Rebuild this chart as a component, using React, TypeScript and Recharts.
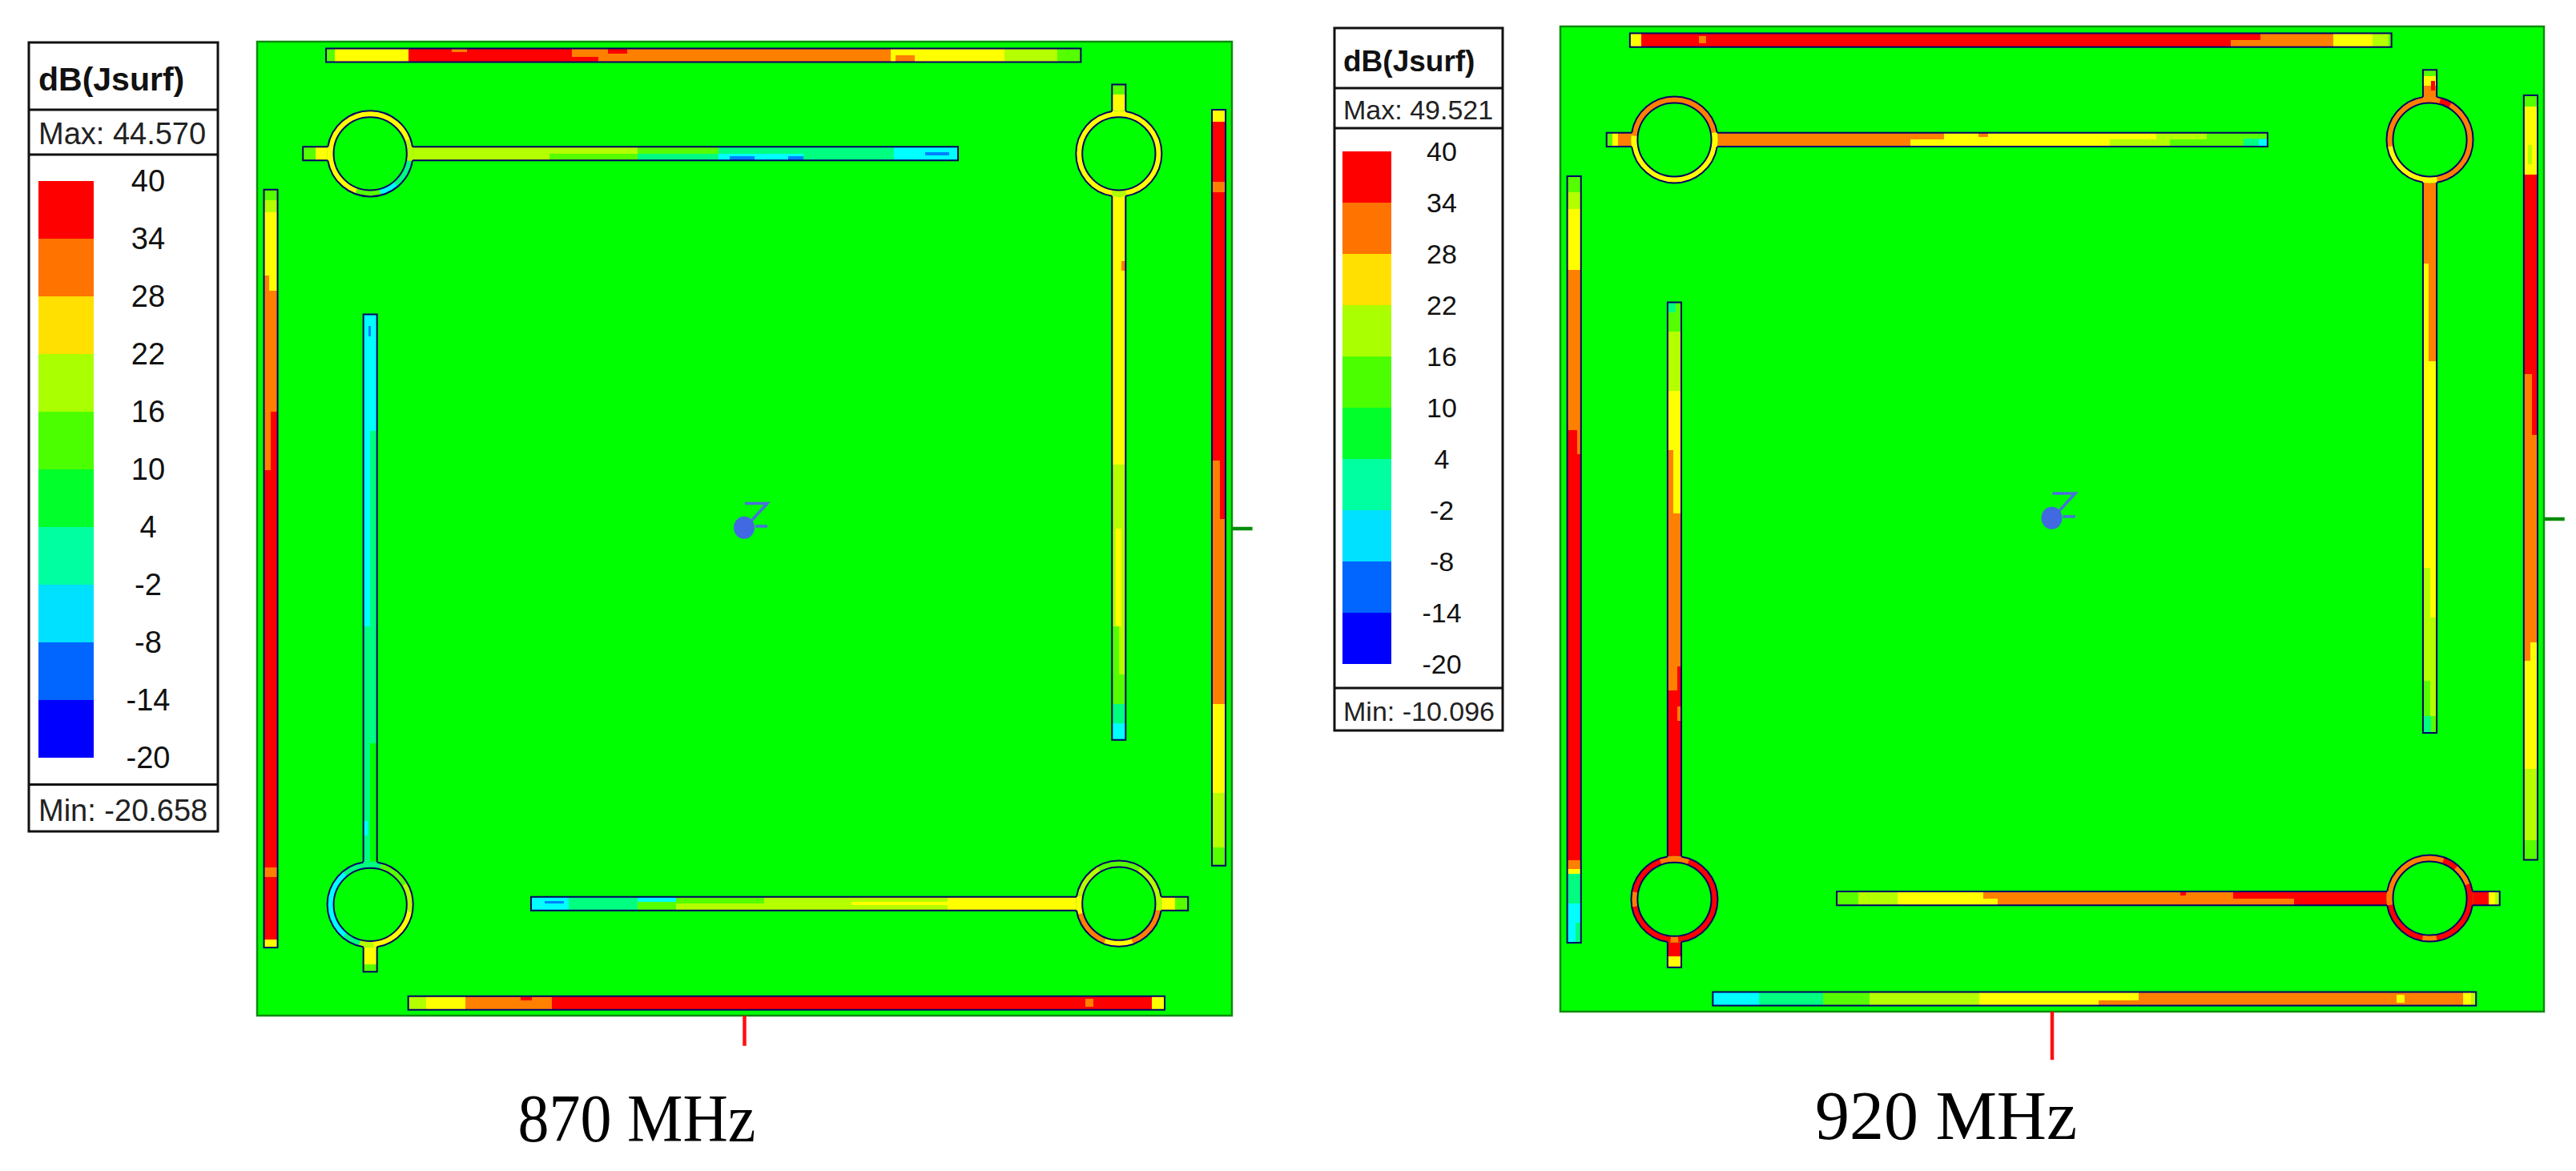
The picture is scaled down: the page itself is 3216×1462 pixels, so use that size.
import { BarChart, Bar, ComposedChart, Line, ReferenceArea, Scatter, XAxis, YAxis } from 'recharts'

// colour bands, low to high
const legendTicks = [-20, -14, -8, -2, 4, 10, 16, 22, 28, 34, 40]
const legendColors = ['#0000ff', '#0066ff', '#00e0ff', '#00ffa0', '#00ff2b', '#4cff00', '#aaff00', '#ffe000', '#ff7300', '#ff0000']
const fieldColors = ['#0000ff', '#0080ff', '#00ffff', '#00ff80', '#00ff00', '#55ff00', '#b4ff00', '#ffff00', '#ff8000', '#ff0000']
const legendRow = [{ name: 'dB', base: -20, b0: 6, b1: 6, b2: 6, b3: 6, b4: 6, b5: 6, b6: 6, b7: 6, b8: 6, b9: 6 }]

// trace layout on the board, 0-100 both ways
const traces = [
  { id: 'top', dir: 'h', c: 98.6, half: 0.7, a: 7.07, b: 84.5 },
  { id: 'left', dir: 'v', c: 1.4, half: 0.7, a: 7.0, b: 84.8 },
  { id: 'right', dir: 'v', c: 98.65, half: 0.7, a: 15.4, b: 93.0 },
  { id: 'bottom', dir: 'h', c: 1.3, half: 0.7, a: 15.5, b: 93.1 },
  { id: 'tl', dir: 'h', c: 88.5, half: 0.7, a: 4.7, b: 71.9 },
  { id: 'tr', dir: 'v', c: 88.4, half: 0.7, a: 28.3, b: 95.6 },
  { id: 'bl', dir: 'v', c: 11.6, half: 0.7, a: 4.5, b: 72.0 },
  { id: 'br', dir: 'h', c: 11.5, half: 0.7, a: 28.1, b: 95.5 },
]
const ringCenters = [
  { id: 'tl', x: 11.6, y: 88.5, gaps: [0, 180] },
  { id: 'tr', x: 88.4, y: 88.5, gaps: [90, 270] },
  { id: 'bl', x: 11.6, y: 11.4, gaps: [90, 270] },
  { id: 'br', x: 88.4, y: 11.5, gaps: [0, 180] },
]
const ringOuter = 4.4
const ringInner = 3.75

// field patches: from, to, dB, then optional cross-width fractions
const top870 = [[7.07, 8, 13], [8, 15.5, 25], [15.5, 32.3, 37], [32.3, 65, 31], [65, 76.7, 25], [76.7, 82.1, 19], [82.1, 84.5, 13], [20, 21.5, 31, 0.75, 1], [32.3, 35, 37, 0, 0.4], [36, 38, 37, 0.6, 1], [65.5, 67.5, 31, 0, 0.5]]
const left870 = [[7, 7.8, 25], [7.8, 56, 37], [56, 74.4, 31], [74.4, 82.5, 25], [82.5, 83.7, 19], [83.7, 84.8, 13], [56, 62, 37, 0.5, 1], [14.2, 15.2, 31], [74.4, 76, 31, 0, 0.4]]
const right870 = [[15.4, 17.3, 13], [17.3, 22.9, 19], [22.9, 32, 25], [32, 51, 31], [51, 91.8, 37], [91.8, 93, 25], [51, 57, 31, 0, 0.6], [84.5, 85.6, 31]]
const bottom870 = [[15.5, 17.3, 19], [17.3, 21.4, 25], [21.4, 30.2, 31], [30.2, 91.8, 37], [91.8, 93.1, 25], [27, 28.2, 37, 0.7, 1], [85, 85.8, 31, 0.2, 0.8]]
const tl870 = [[4.7, 6, 13], [6, 16, 25], [16, 30, 19], [30, 39, 13], [30, 39, 19, 0.5, 1], [39, 47.3, 13], [39, 47.3, 1, 0, 0.5], [47.3, 56, 1], [47.3, 56, -5, 0, 0.5], [48.5, 51, -11, 0, 0.3], [54.5, 57, -11, 0, 0.3], [56, 65.3, 1], [65.3, 71.9, -5], [68.5, 71, -11, 0.4, 0.6]]
const tr870 = [[28.3, 30, -5], [30, 32, 1], [32, 40, 13], [35, 40, 19, 0.5, 1], [40, 56.6, 19], [40, 50, 25, 0.3, 0.7], [56.6, 94.6, 25], [94.6, 95.6, 13], [76.5, 77.5, 31, 0.7, 1]]
const bl870 = [[4.5, 5.3, 13], [5.3, 7.4, 25], [7.4, 15, 7], [15, 28, 1], [15, 28, 7, 0.5, 1], [28, 40, 1], [40, 72, -5], [40, 60, 1, 0.5, 1], [69.7, 70.8, -11, 0.4, 0.55], [18.5, 20, -5, 0, 0.3]]
const br870 = [[28.1, 32, -5], [32, 39, 1], [39, 43, 13], [43, 52, 13], [52, 70.8, 19], [70.8, 94.2, 25], [94.2, 95.5, 13], [29.5, 31.5, -11, 0.5, 0.7], [39, 43, -5, 0.6, 1], [43, 52, 19, 0, 0.5], [61, 70.8, 25, 0.4, 0.6], [88, 92, 31, 0, 0.3]]

const top920 = [[7.07, 8.2, 25], [8.2, 68.2, 37], [68.2, 78.6, 31], [78.6, 82.6, 25], [82.6, 84.2, 19], [84.2, 84.5, 13], [14.1, 14.8, 31, 0.3, 0.8], [68.2, 71.2, 37, 0.5, 1]]
const left920 = [[7, 11, -5], [11, 14, 1], [14, 15.4, 25], [15.4, 59, 37], [59, 75.3, 31], [75.3, 81.5, 25], [81.5, 83.2, 19], [83.2, 84.8, 13], [56.6, 59, 31, 0.7, 1], [7, 9, 1, 0.6, 1], [14.5, 15.4, 31]]
const right920 = [[15.4, 17.4, 13], [17.4, 24.6, 19], [24.6, 35.6, 25], [35.6, 58.5, 31], [58.5, 85, 37], [85, 91.9, 25], [91.9, 93, 13], [58.5, 64.7, 31, 0, 0.6], [35.6, 37.5, 25, 0.5, 1], [86, 88, 19, 0.3, 0.6]]
const bottom920 = [[15.5, 20.2, -5], [20.2, 26.7, 1], [26.7, 31.4, 13], [31.4, 42.6, 19], [42.6, 58.8, 25], [58.8, 91.8, 31], [91.8, 92.6, 25], [92.6, 93.1, 19], [54.7, 58.8, 31, 0, 0.4], [85, 85.8, 25, 0.2, 0.8]]
const tl920 = [[4.7, 5.3, 13], [5.3, 5.9, 25], [5.9, 39, 31], [35.6, 39, 25, 0, 0.5], [39, 60.6, 25], [55.9, 60.6, 19, 0, 0.5], [60.6, 65.7, 19], [62, 65.7, 13, 0, 0.5], [65.7, 71.9, 13], [69.5, 71.9, 1, 0, 0.6], [71, 71.9, -5, 0, 0.5], [42.5, 43.5, 31, 0.7, 1]]
const tr920 = [[28.3, 30, 13], [28.3, 30, 1, 0, 0.6], [30, 33.6, 13], [30, 33.6, 19, 0.5, 1], [33.6, 45, 19], [40, 45, 25, 0.5, 1], [45, 66, 25], [66, 94, 31], [66, 75.9, 25, 0, 0.4], [94, 95, 25], [95, 95.6, 13], [93.5, 94.5, 37, 0.6, 0.9]]
const bl920 = [[4.5, 5.6, 25], [5.6, 32.6, 37], [32.6, 50.6, 31], [50.6, 63, 25], [63, 69, 19], [69, 72, 13], [71, 72, 1, 0, 0.6], [50.6, 57, 31, 0, 0.4], [29.5, 31, 31, 0.7, 1], [32.6, 35, 37, 0.7, 1]]
const br920 = [[28.1, 30.3, 13], [30.3, 34.3, 19], [34.3, 43, 25], [43, 74.6, 31], [74.6, 94.4, 37], [94.4, 95, 25], [95, 95.5, 19], [43, 44.5, 25, 0, 0.5], [68.4, 74.6, 37, 0.5, 1], [63, 63.6, 37, 0.7, 1]]

// ring arcs: from angle, to angle (counter-clockwise from east), dB
const rings870 = {
  tl: [[20, 250, 25], [250, 285, 13], [285, 310, -5], [310, 350, 1], [350, 380, 19]],
  tr: [[-80, 260, 25], [260, 280, 19]],
  bl: [[30, 75, 13], [75, 130, 1], [130, 230, -5], [230, 255, 1], [255, 275, 19], [275, 350, 25], [350, 390, 19]],
  br: [[-10, 60, 19], [60, 120, 13], [120, 170, 19], [170, 195, 25], [195, 250, 31], [250, 290, 25], [290, 350, 31]],
}
const rings920 = {
  tl: [[10, 175, 31], [175, 370, 25]],
  tr: [[-80, 190, 31], [190, 280, 25], [60, 75, 37]],
  bl: [[110, 430, 37], [70, 110, 31], [170, 190, 31], [265, 275, 31]],
  br: [[20, 190, 31], [190, 260, 37], [260, 280, 31], [280, 380, 37], [50, 70, 37]],
}

const fields870 = { top: top870, left: left870, right: right870, bottom: bottom870, tl: tl870, tr: tr870, bl: bl870, br: br870 }
const fields920 = { top: top920, left: left920, right: right920, bottom: bottom920, tl: tl920, tr: tr920, bl: bl920, br: br920 }

// port ticks and axis triad at the board centre
const portTick870 = [{ x: 50, y: 0 }, { x: 50, y: -3.1 }]
const portTick920 = [{ x: 50, y: 0 }, { x: 50, y: -4.9 }]
const sideTick = [{ x: 100, y: 50 }, { x: 102.1, y: 50 }]
const zGlyph = [{ x: 50.04, y: 52.6 }, { x: 52.34, y: 52.6 }, { x: 50.7, y: 50.8 }]
const zArm = [{ x: 51.1, y: 50.25 }, { x: 52.34, y: 50.25 }]
const zOrigin = [{ x: 49.96, y: 50.1 }]

const BOARD_GREEN = '#00ff00'
const NAVY = '#000066'

const fieldColor = (db: number) => fieldColors[Math.min(9, Math.floor((db + 20) / 6))]

function patchBox(tr: any, p: number[]) {
  const lo = tr.c - tr.half
  const w = tr.half * 2
  const c1 = lo + (p[3] ?? 0) * w
  const c2 = lo + (p[4] ?? 1) * w
  return tr.dir === 'h' ? { x1: p[0], x2: p[1], y1: c1, y2: c2 } : { x1: c1, x2: c2, y1: p[0], y2: p[1] }
}

function outlineBox(tr: any) {
  const lo = tr.c - tr.half
  const hi = tr.c + tr.half
  return tr.dir === 'h' ? { x1: tr.a, x2: tr.b, y1: lo, y2: hi } : { x1: lo, x2: hi, y1: tr.a, y2: tr.b }
}

function polar(cx: number, cy: number, r: number, deg: number) {
  const t = (deg * Math.PI) / 180
  return [cx + r * Math.cos(t), cy - r * Math.sin(t)]
}

function arcBand(cx: number, cy: number, rIn: number, rOut: number, from: number, to: number) {
  const large = to - from > 180 ? 1 : 0
  const a = polar(cx, cy, rOut, from)
  const b = polar(cx, cy, rOut, to)
  const c = polar(cx, cy, rIn, to)
  const d = polar(cx, cy, rIn, from)
  return `M${a[0]} ${a[1]}A${rOut} ${rOut} 0 ${large} 0 ${b[0]} ${b[1]}L${c[0]} ${c[1]}A${rIn} ${rIn} 0 ${large} 1 ${d[0]} ${d[1]}Z`
}

function arcLine(cx: number, cy: number, r: number, from: number, to: number) {
  const a = polar(cx, cy, r, from)
  const b = polar(cx, cy, r, to)
  return `M${a[0]} ${a[1]}A${r} ${r} 0 ${to - from > 180 ? 1 : 0} 0 ${b[0]} ${b[1]}`
}

function RingShape({ cx, cy, payload, unit }: any) {
  const rOut = ringOuter * unit
  const rIn = ringInner * unit
  const gap = 9.2
  const [g1, g2] = payload.gaps
  return (
    <g>
      <circle cx={cx} cy={cy} r={rOut} fill={BOARD_GREEN} />
      {payload.arcs.map((arc: number[], i: number) => (
        <path key={i} d={arcBand(cx, cy, rIn, rOut, arc[0] - 0.4, arc[1] + 0.4)} fill={fieldColor(arc[2])} />
      ))}
      <circle cx={cx} cy={cy} r={rIn} fill={BOARD_GREEN} stroke={NAVY} strokeWidth={2} />
      <path d={arcLine(cx, cy, rOut, g1 + gap, g2 - gap)} fill="none" stroke={NAVY} strokeWidth={2} />
      <path d={arcLine(cx, cy, rOut, g2 + gap, g1 + 360 - gap)} fill="none" stroke={NAVY} strokeWidth={2} />
    </g>
  )
}

function ZOrigin({ cx, cy }: any) {
  return <ellipse cx={cx} cy={cy} rx={13} ry={14} fill="#4169e1" />
}

function FieldPanel({ left, top, unitX, unitY, fields, rings, portTick }: any) {
  const pad = 2
  const width = pad + 102.5 * unitX
  const height = pad + 105 * unitY
  const ringRows = ringCenters.map((r) => ({ ...r, arcs: rings[r.id] }))
  return (
    <div style={{ position: 'absolute', left: left - pad, top: top - pad }}>
      <ComposedChart width={width} height={height} margin={{ top: pad, right: 0, bottom: 0, left: pad }}>
        <XAxis type="number" dataKey="x" domain={[0, 102.5]} hide allowDataOverflow />
        <YAxis type="number" dataKey="y" domain={[-5, 100]} hide allowDataOverflow />
        <ReferenceArea x1={0} x2={100} y1={0} y2={100} fill={BOARD_GREEN} fillOpacity={1} stroke="#0f8a0f" strokeWidth={2.5} />
        {traces.flatMap((tr) =>
          fields[tr.id].map((p: number[], i: number) => (
            <ReferenceArea key={`${tr.id}-${i}`} {...patchBox(tr, p)} fill={fieldColor(p[2])} fillOpacity={1} stroke="none" shapeRendering="crispEdges" />
          )),
        )}
        {traces.map((tr) => (
          <ReferenceArea key={`${tr.id}-edge`} {...outlineBox(tr)} fill="none" stroke={NAVY} strokeWidth={2} />
        ))}
        <Scatter data={ringRows} shape={(p: any) => <RingShape {...p} unit={unitX} />} isAnimationActive={false} />
        <Line data={portTick} dataKey="y" stroke="#ff1010" strokeWidth={4.5} dot={false} isAnimationActive={false} />
        <Line data={sideTick} dataKey="y" stroke="#0a8c0a" strokeWidth={4.5} dot={false} isAnimationActive={false} />
        <Line data={zGlyph} dataKey="y" stroke="#4a6fe0" strokeWidth={3.5} dot={false} isAnimationActive={false} />
        <Line data={zArm} dataKey="y" stroke="#4a6fe0" strokeWidth={3.5} dot={false} isAnimationActive={false} />
        <Scatter data={zOrigin} shape={(p: any) => <ZOrigin {...p} />} isAnimationActive={false} />
      </ComposedChart>
    </div>
  )
}

function LegendFrame({ l, r, t, d1, d2, d3, b, textX, titleY, maxY, minY, titleSize, textSize, max, min }: any) {
  const edge = { stroke: '#111', strokeWidth: 3 }
  return (
    <g>
      <rect x={l} y={t} width={r - l} height={b - t} fill="#fff" {...edge} />
      <line x1={l} x2={r} y1={d1} y2={d1} {...edge} />
      <line x1={l} x2={r} y1={d2} y2={d2} {...edge} />
      <line x1={l} x2={r} y1={d3} y2={d3} {...edge} />
      <text x={textX} y={titleY} fontFamily="Liberation Sans" fontWeight="bold" fontSize={titleSize} fill="#111">dB(Jsurf)</text>
      <text x={textX} y={maxY} fontFamily="Liberation Sans" fontSize={textSize} fill="#222">Max: {max}</text>
      <text x={textX} y={minY} fontFamily="Liberation Sans" fontSize={textSize} fill="#222">Min: {min}</text>
    </g>
  )
}

function ColorBar({ left, top, barW, barH, labelX, fontSize }: any) {
  const pad = 30
  const tick = ({ x, y, payload }: any) => (
    <text x={x + labelX} y={y} textAnchor="middle" dominantBaseline="central" fontFamily="Liberation Sans" fontSize={fontSize} fill="#111">
      {payload.value}
    </text>
  )
  return (
    <div style={{ position: 'absolute', left, top: top - pad }}>
      <BarChart width={barW + 120} height={barH + pad * 2} data={legendRow} barCategoryGap={0} margin={{ top: pad, right: 0, bottom: pad, left: 0 }}>
        <XAxis dataKey="name" hide />
        <YAxis orientation="right" type="number" width={120} domain={[-20, 40]} ticks={legendTicks} interval={0} axisLine={false} tickLine={false} tickSize={0} tickMargin={0} tick={tick} allowDataOverflow />
        <Bar dataKey="base" stackId="scale" fill="none" isAnimationActive={false} />
        {legendColors.map((c, i) => (
          <Bar key={c} dataKey={`b${i}`} stackId="scale" fill={c} isAnimationActive={false} />
        ))}
      </BarChart>
    </div>
  )
}

export default function App() {
  return (
    <div style={{ position: 'absolute', left: 0, top: 0, width: 3216, height: 1462, background: '#fff', overflow: 'hidden' }}>
      <svg width={3216} height={1462} style={{ position: 'absolute', left: 0, top: 0 }}>
        <LegendFrame l={36} r={272} t={53} d1={137} d2={193} d3={979.5} b={1038} textX={48} titleY={113} maxY={180} minY={1025} titleSize={41} textSize={38} max="44.570" min="-20.658" />
        <LegendFrame l={1666} r={1876} t={35} d1={110} d2={160} d3={859} b={912} textX={1677} titleY={89} maxY={149} minY={900} titleSize={37} textSize={34} max="49.521" min="-10.096" />
        <text x={795} y={1425} textAnchor="middle" fontFamily="Liberation Serif" fontSize={84} textLength={297} lengthAdjust="spacingAndGlyphs" fill="#000">870 MHz</text>
        <text x={2429.5} y={1422} textAnchor="middle" fontFamily="Liberation Serif" fontSize={86} fill="#000">920 MHz</text>
      </svg>
      <ColorBar left={48} top={226} barW={69} barH={720} labelX={68} fontSize={38} />
      <ColorBar left={1676} top={189} barW={61} barH={640} labelX={63} fontSize={34} />
      <FieldPanel left={321} top={52} unitX={12.17} unitY={12.16} fields={fields870} rings={rings870} portTick={portTick870} />
      <FieldPanel left={1947.5} top={33} unitX={12.28} unitY={12.3} fields={fields920} rings={rings920} portTick={portTick920} />
    </div>
  )
}
